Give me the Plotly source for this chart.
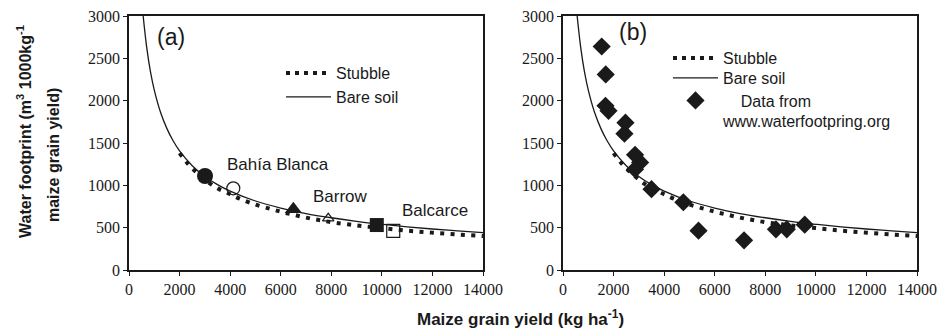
import plotly.graph_objects as go

# ---------------- data ----------------
yield_ticks = [0, 2000, 4000, 6000, 8000, 10000, 12000, 14000]
yield_labels = ["0", "2000", "4000", "6000", "8000", "10000", "12000", "14000"]
wf_ticks = [0, 500, 1000, 1500, 2000, 2500, 3000]
wf_labels = ["0", "500", "1000", "1500", "2000", "2500", "3000"]

bare_x = [560, 700, 850, 1000, 1250, 1500, 1750, 2000, 2500, 3000, 3500, 4000, 5000,
          6000, 7000, 8000, 9000, 10000, 11000, 12000, 13000, 14000]
bare_y = [3000, 2630, 2340, 2125, 1860, 1670, 1523, 1407, 1232, 1105, 1008, 931, 815,
          732, 667, 617, 575, 540, 510, 484, 462, 442]

stub_x = [2000, 2300, 2700, 3100, 3500, 4000, 4400, 5000, 5600, 6000, 6400, 6800,
          7200, 7600, 8000, 9000, 10000, 11000, 12000, 13000, 14000]
stub_y = [1380, 1265, 1145, 1045, 965, 895, 840, 772, 722, 688, 660, 632,
          607, 585, 565, 527, 495, 465, 441, 420, 402]

site_names = ["Bahía Blanca", "Barrow", "Balcarce"]
site_filled_x = [3006, 6500, 9800]
site_filled_y = [1110, 717, 531]
site_open_x = [4125, 7880, 10450]
site_open_y = [965, 610, 461]

wfn_x = [1530, 1690, 1680, 1800, 2470, 2430, 2850, 3050, 2850, 3500, 4760,
         5360, 7160, 8420, 8850, 9560]
wfn_y = [2640, 2310, 1940, 1880, 1740, 1610, 1360, 1270, 1190, 955, 800,
         465, 350, 480, 480, 535]

legend_stubble = "Stubble"
legend_bare = "Bare soil"
legend_data = "\u00a0\u00a0\u00a0\u00a0Data from<br>www.waterfootpring.org"

# ---------------- figure ----------------
W, H = 939, 331
BLACK = "#1a1a1a"
SANS = "Liberation Sans"
SERIF = "Times New Roman, Liberation Serif, serif"


def px_x(p):
    return p / W


def px_y(p):
    return 1 - p / H


DOT = "4px,6.4px"
LEG_DOT = "4px,5px"

fig = go.Figure()

# left panel
fig.add_trace(go.Scatter(x=stub_x, y=stub_y, mode="lines",
                         line=dict(color=BLACK, width=4, dash=DOT, shape="spline"),
                         xaxis="x", yaxis="y", showlegend=False))
fig.add_trace(go.Scatter(x=bare_x, y=bare_y, mode="lines",
                         line=dict(color=BLACK, width=1.3, shape="spline"),
                         xaxis="x", yaxis="y", showlegend=False))
fig.add_trace(go.Scatter(x=[None], y=[None], mode="lines",
                         line=dict(color=BLACK, width=4, dash=LEG_DOT),
                         name=legend_stubble, xaxis="x", yaxis="y", legend="legend"))
fig.add_trace(go.Scatter(x=[None], y=[None], mode="lines", line=dict(color=BLACK, width=1.3),
                         name=legend_bare, xaxis="x", yaxis="y", legend="legend3"))

symbols_filled = ["circle", "triangle-up", "square"]
sizes_filled = [16, 15, 14]
symbols_open = ["circle-open", "triangle-up-open", "square-open"]
sizes_open = [13, 10, 13]
for i in range(3):
    fig.add_trace(go.Scatter(x=[site_filled_x[i]], y=[site_filled_y[i]], mode="markers",
                             marker=dict(symbol=symbols_filled[i], size=sizes_filled[i], color=BLACK),
                             xaxis="x", yaxis="y", showlegend=False))
    fig.add_trace(go.Scatter(x=[site_open_x[i]], y=[site_open_y[i]], mode="markers",
                             marker=dict(symbol=symbols_open[i], size=sizes_open[i], color=BLACK,
                                         line=dict(width=1.2, color=BLACK)),
                             xaxis="x", yaxis="y", showlegend=False))

# right panel
fig.add_trace(go.Scatter(x=stub_x, y=stub_y, mode="lines",
                         line=dict(color=BLACK, width=4, dash=DOT, shape="spline"),
                         xaxis="x2", yaxis="y2", showlegend=False))
fig.add_trace(go.Scatter(x=bare_x, y=bare_y, mode="lines",
                         line=dict(color=BLACK, width=1.3, shape="spline"),
                         xaxis="x2", yaxis="y2", showlegend=False))
fig.add_trace(go.Scatter(x=[None], y=[None], mode="lines",
                         line=dict(color=BLACK, width=4, dash=LEG_DOT),
                         name=legend_stubble, xaxis="x2", yaxis="y2", legend="legend2"))
fig.add_trace(go.Scatter(x=[None], y=[None], mode="lines", line=dict(color=BLACK, width=1.3),
                         name=legend_bare, xaxis="x2", yaxis="y2", legend="legend4"))
fig.add_trace(go.Scatter(x=wfn_x, y=wfn_y, mode="markers",
                         marker=dict(symbol="diamond", size=14, color=BLACK),
                         name=legend_data, xaxis="x2", yaxis="y2", legend="legend5"))

ydom = [px_y(270), px_y(16)]
axis_common = dict(
    showline=True, linecolor=BLACK, linewidth=1.5, mirror=True,
    ticks="outside", ticklen=4, tickwidth=1.2, tickcolor=BLACK,
    showgrid=False, zeroline=False,
    tickfont=dict(family=SERIF, size=16, color=BLACK),
    automargin=False,
)


def leg(xp, yp, valign="middle"):
    return dict(x=px_x(xp), y=px_y(yp), xanchor="left", yanchor="middle", valign=valign,
                bgcolor="rgba(0,0,0,0)", borderwidth=0, itemwidth=45,
                font=dict(family=SANS, size=16, color=BLACK), tracegroupgap=0)


fig.update_layout(
    template="none",
    width=W, height=H,
    margin=dict(l=0, r=0, t=0, b=0),
    paper_bgcolor="white", plot_bgcolor="white",
    xaxis=dict(domain=[px_x(129), px_x(483)], range=[0, 14000], tickvals=yield_ticks,
               ticktext=yield_labels, anchor="y", **axis_common),
    yaxis=dict(domain=ydom, range=[0, 3000], tickvals=wf_ticks, ticktext=wf_labels,
               anchor="x", **axis_common),
    xaxis2=dict(domain=[px_x(563), px_x(917)], range=[0, 14000], tickvals=yield_ticks,
                ticktext=yield_labels, anchor="y2", **axis_common),
    yaxis2=dict(domain=ydom, range=[0, 3000], tickvals=wf_ticks, ticktext=wf_labels,
                anchor="x2", **axis_common),
    legend=leg(281, 73),
    legend3=leg(281, 97),
    legend2=leg(668, 58),
    legend4=leg(668, 78),
    legend5=leg(668, 111, valign="top"),
    showlegend=True,
)

ann_font = dict(family=SANS, size=17, color=BLACK)
C = dict(xanchor="center", yanchor="middle", showarrow=False)
annotations = [
    dict(text="(a)", x=px_x(171), y=px_y(37), xref="paper", yref="paper",
         font=dict(family=SANS, size=23, color=BLACK), **C),
    dict(text="(b)", x=px_x(633), y=px_y(32), xref="paper", yref="paper",
         font=dict(family=SANS, size=23, color=BLACK), **C),
    dict(text=site_names[0], x=5893, y=1252, xref="x", yref="y", font=ann_font, **C),
    dict(text=site_names[1], x=8364, y=866, xref="x", yref="y", font=ann_font, **C),
    dict(text=site_names[2], x=12101, y=697, xref="x", yref="y", font=ann_font, **C),
    dict(text="<b>Maize grain yield (kg ha<sup>-1</sup>)</b>", x=px_x(520), y=px_y(318),
         xref="paper", yref="paper", font=dict(family=SANS, size=17, color=BLACK), **C),
    dict(text="<b>Water footprint (m<sup>3</sup> 1000kg<sup>-1</sup></b>", x=px_x(24), y=px_y(132),
         xref="paper", yref="paper", textangle=-90,
         font=dict(family=SANS, size=16, color=BLACK), **C),
    dict(text="<b>maize grain yield)</b>", x=px_x(53), y=px_y(155),
         xref="paper", yref="paper", textangle=-90,
         font=dict(family=SANS, size=16, color=BLACK), **C),
]
fig.update_layout(annotations=annotations)

fig.write_html("out.html")
